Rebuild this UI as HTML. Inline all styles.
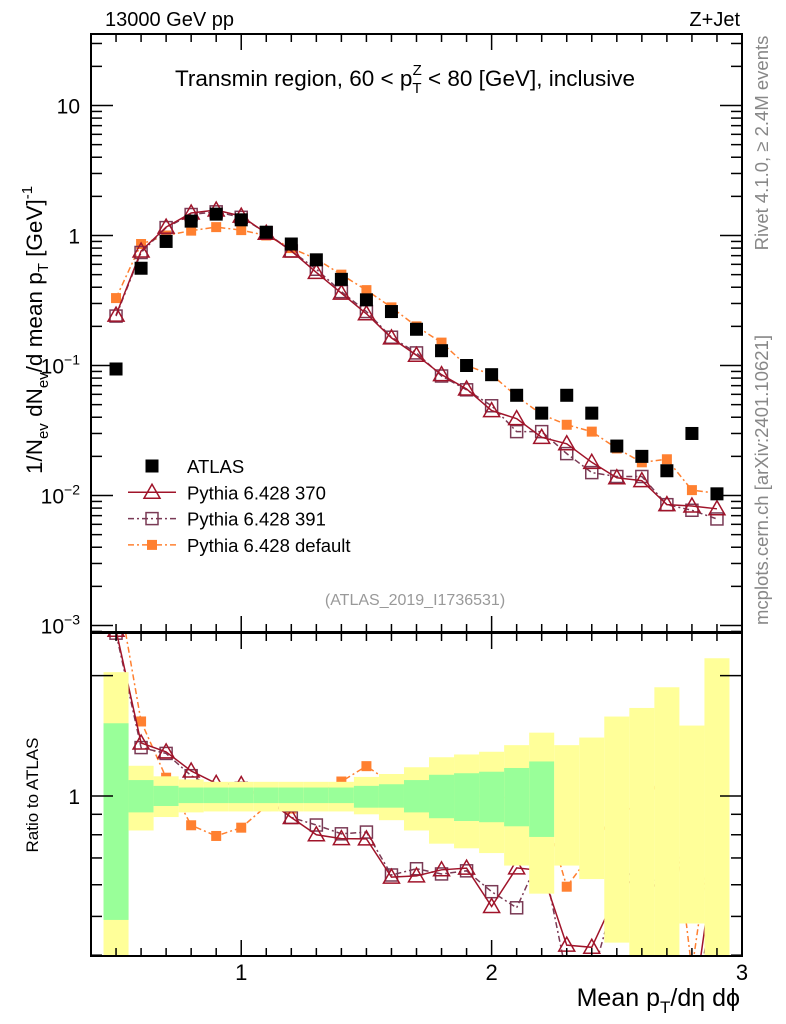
<!DOCTYPE html>
<html><head><meta charset="utf-8">
<style>
html,body{margin:0;padding:0;background:#fff;}
svg{display:block;font-family:"Liberation Sans",Arial,sans-serif;}
</style></head>
<body>
<svg id="chart" width="786" height="1024" viewBox="0 0 786 1024" xmlns="http://www.w3.org/2000/svg">
<g id="ratioMarks"></g>
<g id="bands"></g>
<g id="mainMarks"></g>
<g id="axes"></g>
<text x="105" y="26" font-size="20">13000 GeV pp</text>
<text x="740" y="26" font-size="20" text-anchor="end">Z+Jet</text>
<text x="405" y="86" font-size="22.5" text-anchor="middle">Transmin region, 60 &lt; p<tspan font-size="15" dy="7">T</tspan><tspan font-size="15" dx="-9" dy="-18">Z</tspan><tspan dy="11"> &lt; 80 [GeV], inclusive</tspan></text>
<text transform="translate(42,330) rotate(-90)" font-size="22.5" text-anchor="middle">1/N<tspan font-size="15" dy="6">ev</tspan><tspan dy="-6"> dN</tspan><tspan font-size="15" dy="6">ev</tspan><tspan dy="-6">/d mean p</tspan><tspan font-size="15" dy="6">T</tspan><tspan dy="-6"> [GeV]</tspan><tspan font-size="15" dy="-10">-1</tspan></text>
<text transform="translate(768,143) rotate(-90)" font-size="18.5" fill="#888" text-anchor="middle">Rivet 4.1.0, ≥ 2.4M events</text>
<text transform="translate(768,480) rotate(-90)" font-size="18.5" fill="#888" text-anchor="middle">mcplots.cern.ch [arXiv:2401.10621]</text>
<text x="415" y="605" font-size="16" fill="#999" text-anchor="middle">(ATLAS_2019_I1736531)</text>
<text transform="translate(38,795) rotate(-90)" font-size="17" text-anchor="middle">Ratio to ATLAS</text>
<text x="740" y="1006" font-size="25" text-anchor="end">Mean p<tspan font-size="17" dy="7">T</tspan><tspan dy="-7">/dη dϕ</tspan></text>
<g id="legend"></g>
</svg>
<script>
const xVals=[0.5,0.6,0.7,0.8,0.9,1.0,1.1,1.2,1.3,1.4,1.5,1.6,1.7,1.8,1.9,2.0,2.1,2.2,2.3,2.4,2.5,2.6,2.7,2.8,2.9];
const atlas=[0.094,0.56,0.9,1.29,1.46,1.32,1.06,0.86,0.65,0.46,0.32,0.26,0.19,0.13,0.1,0.085,0.059,0.043,0.059,0.043,0.024,0.02,0.0155,0.030,0.0103];
const py370=[0.244,0.76,1.16,1.49,1.57,1.41,1.04,0.76,0.52,0.36,0.25,0.163,0.12,0.085,0.066,0.045,0.039,0.028,0.025,0.018,0.0137,0.013,0.0085,0.0083,0.0079];
const py391=[0.24,0.74,1.15,1.45,1.52,1.38,1.05,0.76,0.55,0.37,0.26,0.165,0.125,0.083,0.065,0.049,0.031,0.031,0.021,0.015,0.014,0.014,0.0085,0.0077,0.0066];
const pyDef=[0.33,0.86,1.0,1.09,1.16,1.1,1.0,0.8,0.66,0.5,0.38,0.28,0.2,0.15,0.1,0.085,0.058,0.042,0.035,0.031,0.023,0.018,0.019,0.011,0.0104];
const yellowHi=[2.04,1.19,1.12,1.10,1.085,1.085,1.085,1.085,1.085,1.085,1.116,1.135,1.18,1.25,1.27,1.29,1.34,1.44,1.34,1.40,1.58,1.66,1.87,1.50,2.21];
const yellowLo=[0.3,0.82,0.886,0.91,0.915,0.915,0.915,0.915,0.915,0.915,0.9,0.87,0.82,0.76,0.74,0.72,0.67,0.57,0.67,0.62,0.43,0.3,0.3,0.48,0.3];
const greenHi=[1.52,1.096,1.06,1.05,1.05,1.05,1.05,1.05,1.05,1.05,1.06,1.07,1.096,1.13,1.14,1.15,1.175,1.22,null,null,null,null,null,null,null];
const greenLo=[0.49,0.91,0.944,0.96,0.96,0.96,0.96,0.96,0.96,0.96,0.935,0.935,0.91,0.88,0.866,0.86,0.84,0.79,null,null,null,null,null,null,null];
const xTicks=[1,2,3];
const yTickExp=[1,0,-1,-2,-3];

const NS="http://www.w3.org/2000/svg";
const L=91,R=742,MT=34,MB=632,RT=633,RB=956;
const X=v=>L+(v-0.4)*(R-L)/2.6;
const Y=v=>235.5-130*Math.log10(v);
const RY=v=>796-400*Math.log10(v);
function el(tag,attrs,parent){const e=document.createElementNS(NS,tag);for(const k in attrs)e.setAttribute(k,attrs[k]);parent.appendChild(e);return e;}
const axes=document.getElementById('axes'),bands=document.getElementById('bands'),rm=document.getElementById('ratioMarks'),mm=document.getElementById('mainMarks'),leg=document.getElementById('legend');

const defs=el('defs',{},document.getElementById('chart'));
const cp1=el('clipPath',{id:'cMain'},defs);el('rect',{x:L,y:MT,width:R-L,height:MB-MT},cp1);
const cp2=el('clipPath',{id:'cRat'},defs);el('rect',{x:L,y:RT,width:R-L,height:RB-RT},cp2);
bands.setAttribute('clip-path','url(#cRat)');rm.setAttribute('clip-path','url(#cRat)');mm.setAttribute('clip-path','url(#cMain)');

xVals.forEach((x,i)=>{
  const x0=X(x-0.05),x1=X(x+0.05);
  const yb=el('rect',{x:x0,y:RY(yellowHi[i]),width:x1-x0,height:RY(yellowLo[i])-RY(yellowHi[i]),fill:'#ffff99'},bands);
  
  
  if(greenHi[i]!==null){
    const gb=el('rect',{x:x0,y:RY(greenHi[i]),width:x1-x0,height:RY(greenLo[i])-RY(greenHi[i]),fill:'#99ff99'},bands);
    
    
  }
});

const series=[
 {d:py370,c:'#a0142a',dash:'',m:'tri',name:'Pythia 6.428 370'},
 {d:py391,c:'#7a3a55',dash:'6,3,2,3',m:'sq',name:'Pythia 6.428 391'},
 {d:pyDef,c:'#ff8030',dash:'6,3,2,3',m:'fsq',name:'Pythia 6.428 default'}
];
function marker(type,cx,cy,c,g){
  let e;
  if(type==='tri')e=el('path',{d:`M${cx},${cy-8}L${cx+8},${cy+6}L${cx-8},${cy+6}Z`,fill:'none',stroke:c,'stroke-width':1.5},g);
  else if(type==='sq')e=el('rect',{x:cx-6,y:cy-6,width:12,height:12,fill:'none',stroke:c,'stroke-width':1.5},g);
  else if(type==='fsq')e=el('rect',{x:cx-5,y:cy-5,width:10,height:10,fill:c},g);
  else e=el('rect',{x:cx-6.5,y:cy-6.5,width:13,height:13,fill:'#000'},g);
  return e;
}
[series[2],series[1],series[0]].forEach(s=>{
  const pts=xVals.map((x,i)=>X(x)+','+Y(s.d[i])).join(' ');
  const pl=el('polyline',{points:pts,fill:'none',stroke:s.c,'stroke-width':1.5,'stroke-dasharray':s.dash},mm);
  
  
  xVals.forEach((x,i)=>{const mk=marker(s.m,X(x),Y(s.d[i]),s.c,mm);
    
    });
});
xVals.forEach((x,i)=>{const mk=marker('data',X(x),Y(atlas[i]),'#000',mm);
  
  });
[series[2],series[1],series[0]].forEach(s=>{
  const pts=xVals.map((x,i)=>X(x)+','+RY(s.d[i]/atlas[i])).join(' ');
  const pl=el('polyline',{points:pts,fill:'none',stroke:s.c,'stroke-width':1.5,'stroke-dasharray':s.dash},rm);
  
  
  xVals.forEach((x,i)=>{const mk=marker(s.m,X(x),RY(s.d[i]/atlas[i]),s.c,rm);
    
    });
});

[[MT,MB],[RT,RB]].forEach(([t,b])=>el('rect',{x:L,y:t,width:R-L,height:b-t,fill:'none',stroke:'#000','stroke-width':2},axes));
for(let k=5;k<=29;k++){
  const v=k/10,x=X(v),maj=(k%10===0),len=maj?16:8;
  [[MT,1],[MB,-1],[RT,1],[RB,-1]].forEach(([y,d])=>el('line',{x1:x,x2:x,y1:y,y2:y+d*len,stroke:'#000','stroke-width':1.5},axes));
}
xTicks.forEach(v=>{const t=el('text',{x:X(v),y:980,'font-size':22,'text-anchor':'middle'},axes);t.textContent=v;
  
  });
for(let e=-4;e<=1;e++){for(let m=1;m<=9;m++){const v=m*Math.pow(10,e),y=Y(v);if(y<MT||y>MB)continue;
  const len=m===1?22:11;
  el('line',{x1:L,x2:L+len,y1:y,y2:y,stroke:'#000','stroke-width':1.5},axes);
  el('line',{x1:R,x2:R-len,y1:y,y2:y,stroke:'#000','stroke-width':1.5},axes);}}
yTickExp.forEach(e=>{const y=Y(Math.pow(10,e));const t=el('text',{x:80,y:y+8,'font-size':21,'text-anchor':'end'},axes);
  
  
  if(e===1)t.textContent='10';else if(e===0)t.textContent='1';else{t.textContent='10';const sp=el('tspan',{dy:-9,'font-size':14},t);sp.textContent='−'+(-e);}});
[0.4,0.5,0.6,0.7,0.8,0.9,1,2].forEach(v=>{const y=RY(v);const len=(v===1||v===2)?22:11;
  el('line',{x1:L,x2:L+len,y1:y,y2:y,stroke:'#000','stroke-width':1.5},axes);
  el('line',{x1:R,x2:R-len,y1:y,y2:y,stroke:'#000','stroke-width':1.5},axes);});
const r1=el('text',{x:80,y:RY(1)+8,'font-size':21,'text-anchor':'end'},axes);r1.textContent='1';



const legItems=[{m:'data',c:'#000',dash:'',name:'ATLAS'}].concat(series);
legItems.forEach((s,i)=>{const y=466+i*26.3;
  const g=el('g',{},leg);
  
  
  if(s.m!=='data')el('line',{x1:128,x2:176,y1:y,y2:y,stroke:s.c,'stroke-width':1.5,'stroke-dasharray':s.dash},g);
  marker(s.m,152,y,s.c,g);
  const t=el('text',{x:187,y:y+7,'font-size':18.5},g);t.textContent=s.name;});
</script>
</body></html>
